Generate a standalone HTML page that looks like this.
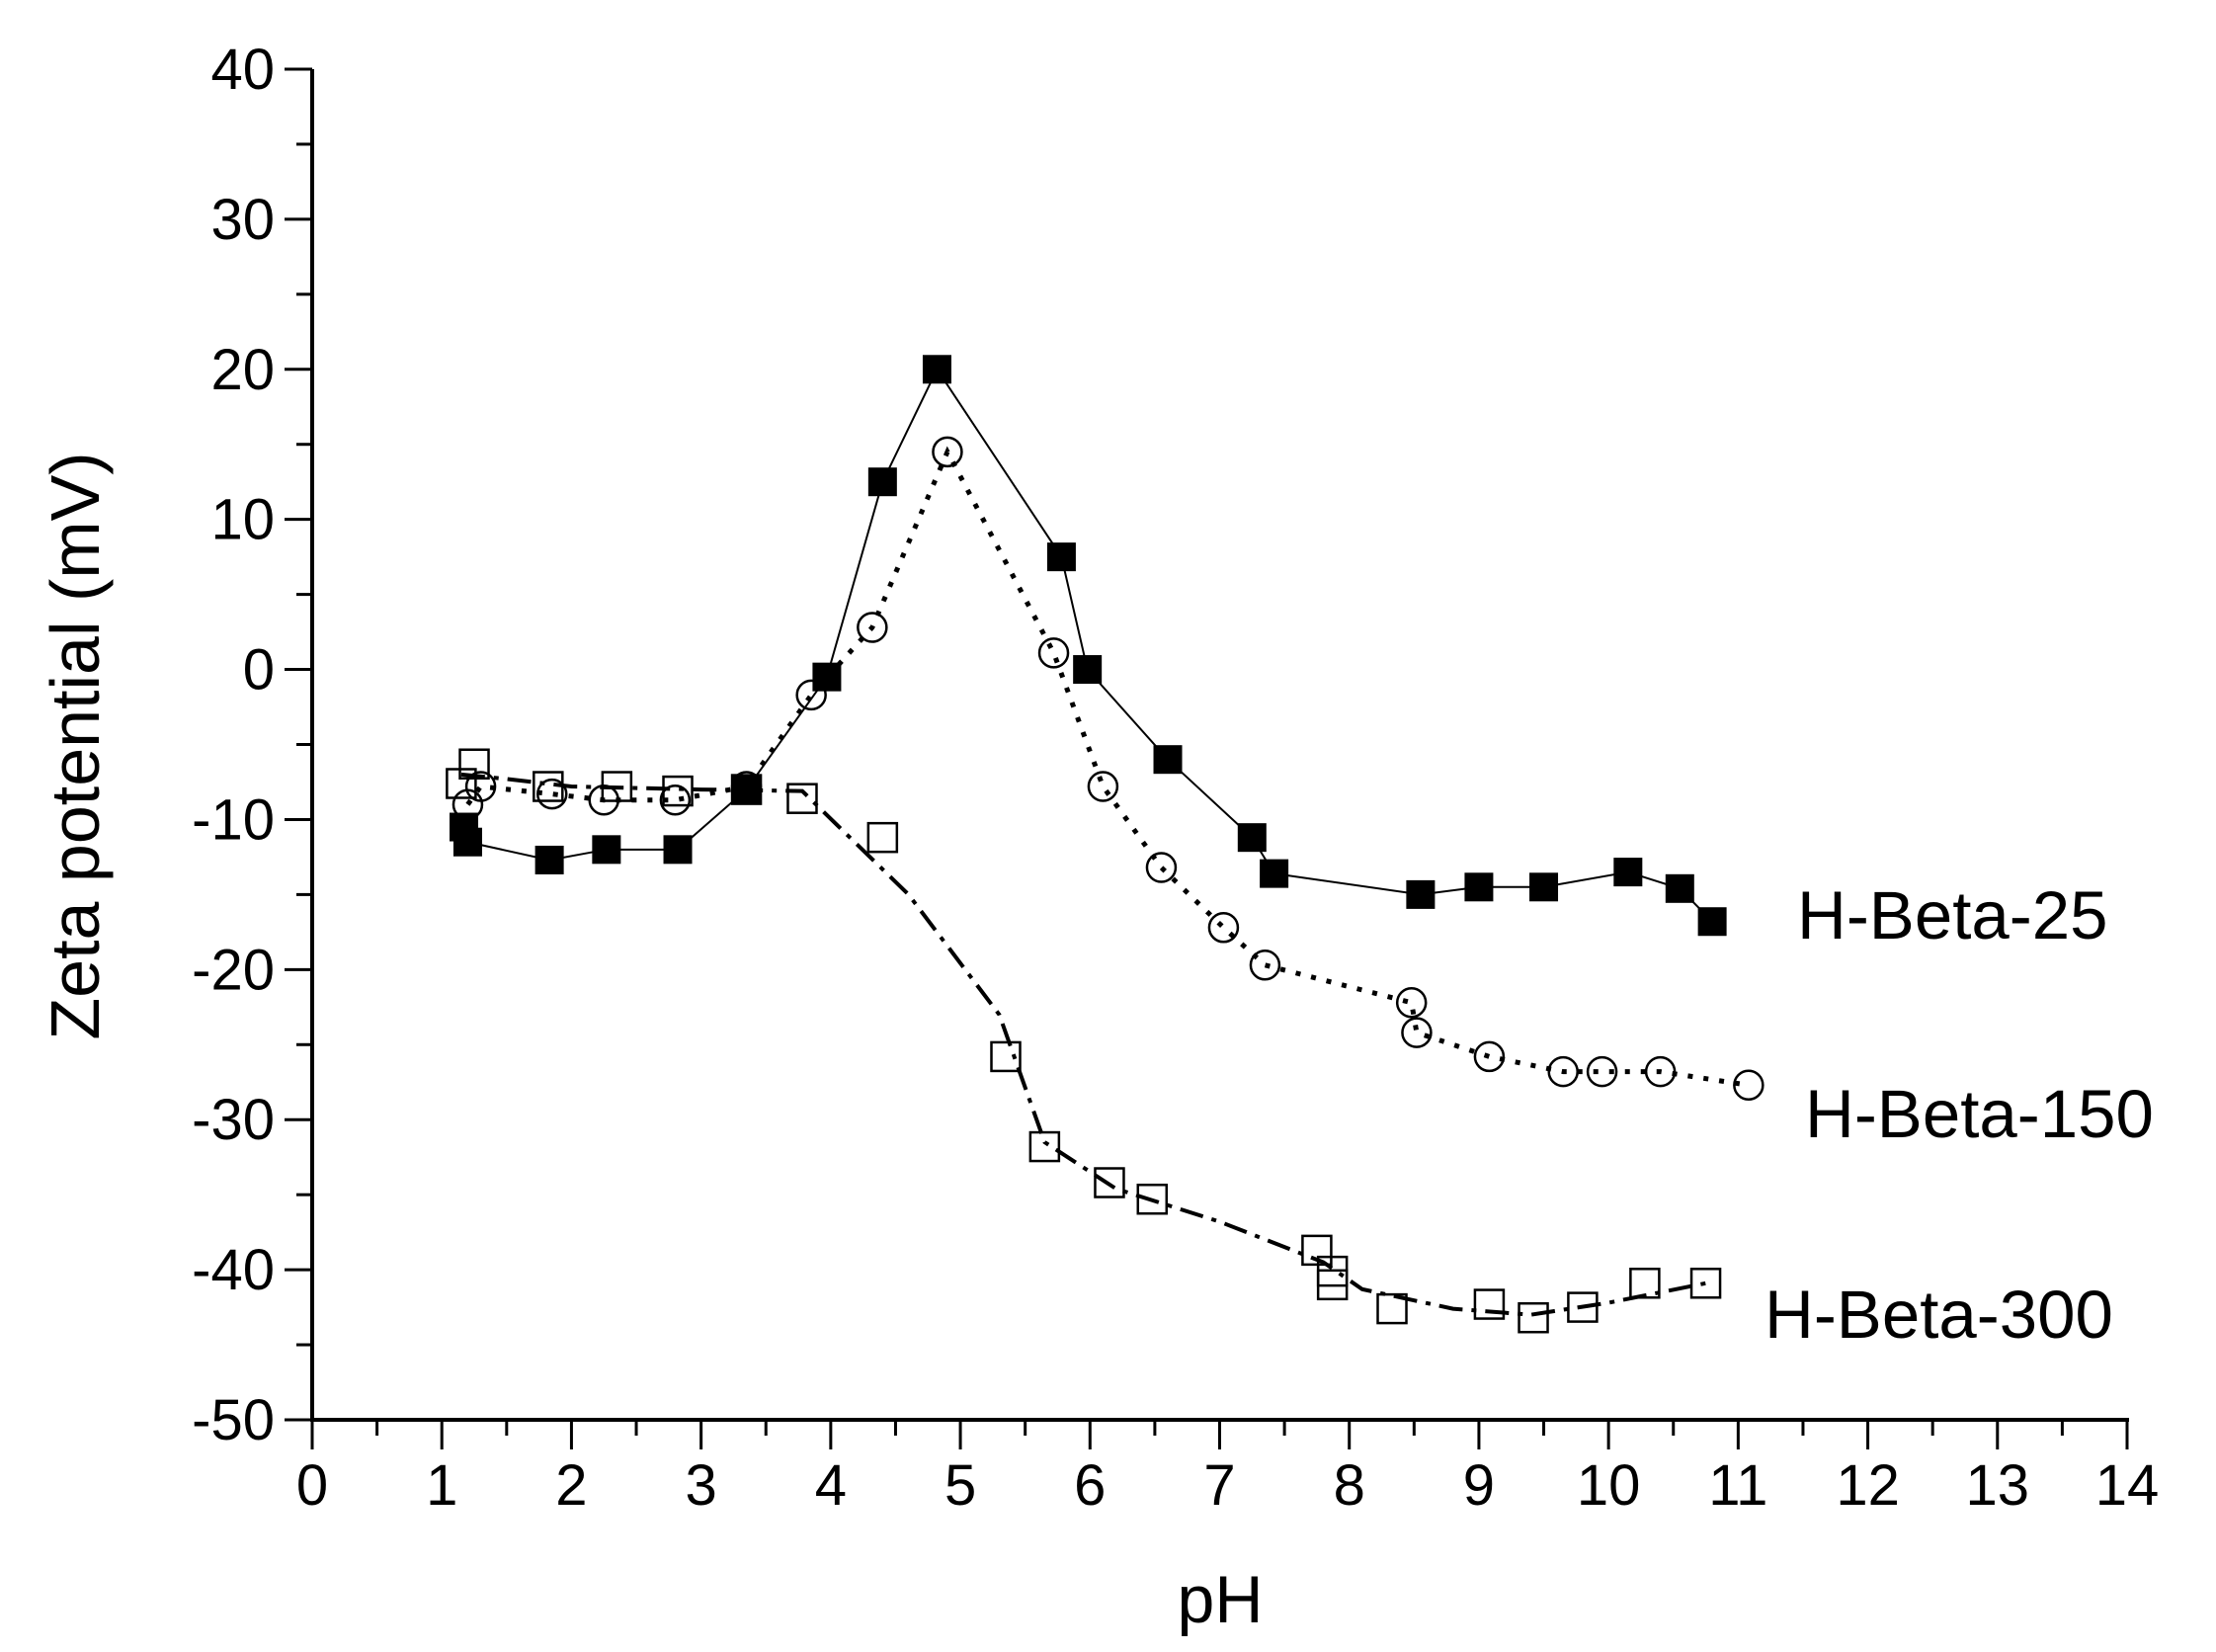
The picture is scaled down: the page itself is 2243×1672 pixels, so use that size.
<!DOCTYPE html>
<html><head><meta charset="utf-8"><style>html,body{margin:0;padding:0;background:#fff}svg{display:block}</style></head>
<body>
<svg id="s" width="2243" height="1672" xmlns="http://www.w3.org/2000/svg" font-family="Liberation Sans, sans-serif"></svg>
<script>
const s=document.getElementById('s');
const X0=316,X1=2153,Y40=70,Ym50=1437;
const X=v=>X0+(X1-X0)*v/14, Y=v=>Ym50+(Y40-Ym50)*(v+50)/90;
let h='';
h+=`<line x1="${X0}" y1="${Y40}" x2="${X0}" y2="${Ym50}" stroke="#000" stroke-width="4"/>`;
h+=`<line x1="${X0-2}" y1="${Ym50}" x2="${X1+2}" y2="${Ym50}" stroke="#000" stroke-width="4"/>`;
for(let v=-50;v<=40;v+=5){const y=Y(v),maj=v%10==0;h+=`<line x1="${X0-(maj?28:16)}" y1="${y}" x2="${X0}" y2="${y}" stroke="#000" stroke-width="3"/>`;
 if(maj)h+=`<text x="${X0-38}" y="${y+20}" font-size="58" text-anchor="end">${v}</text>`;}
for(let v=0;v<=14;v+=0.5){const x=X(v),maj=v%1==0;h+=`<line x1="${x}" y1="${Ym50}" x2="${x}" y2="${Ym50+(maj?30:16)}" stroke="#000" stroke-width="3"/>`;
 if(maj)h+=`<text x="${x}" y="${Ym50+86}" font-size="58" text-anchor="middle">${v}</text>`;}
h+=`<text x="1235" y="1642" font-size="68" text-anchor="middle">pH</text>`;
h+=`<text transform="translate(100,755) rotate(-90)" font-size="70" text-anchor="middle">Zeta potential (mV)</text>`;
h+=`<text x="1819" y="950" font-size="69">H-Beta-25</text>`;
h+=`<text x="1827" y="1151" font-size="69">H-Beta-150</text>`;
h+=`<text x="1786" y="1354" font-size="69">H-Beta-300</text>`;
const b25=[[1.17,-10.5],[1.2,-11.5],[1.83,-12.7],[2.27,-12],[2.82,-12],[3.35,-8],[3.97,-0.5],[4.4,12.5],[4.82,20],[5.78,7.5],[5.98,0],[6.6,-6],[7.25,-11.2],[7.42,-13.6],[8.55,-15],[9,-14.5],[9.5,-14.5],[10.15,-13.5],[10.55,-14.6],[10.8,-16.8]];
const b150=[[1.2,-9],[1.3,-7.8],[1.85,-8.3],[2.25,-8.7],[2.8,-8.7],[3.35,-7.8],[3.85,-1.7],[4.32,2.8],[4.9,14.5],[5.72,1.1],[6.1,-7.8],[6.55,-13.2],[7.03,-17.2],[7.35,-19.7],[8.48,-22.2],[8.52,-24.2],[9.08,-25.8],[9.65,-26.8],[9.95,-26.8],[10.4,-26.8],[11.08,-27.7]];
const b300=[[1.15,-7.6],[1.25,-6.3],[1.82,-7.8],[2.35,-7.8],[2.82,-8.1],[3.35,-8],[3.78,-8.6],[4.4,-11.2],[5.35,-25.8],[5.65,-31.8],[6.15,-34.2],[6.48,-35.3],[7.75,-38.7],[7.87,-40.1],[7.87,-41],[8.33,-42.6],[9.08,-42.3],[9.42,-43.2],[9.8,-42.5],[10.28,-40.9],[10.75,-40.9]];
const l300=[[1.15,-7],[1.5,-7.3],[2,-7.8],[3,-8],[3.78,-8.1],[4.6,-15],[5.3,-23],[5.65,-31.5],[6.2,-34.6],[7,-36.8],[7.8,-39.5],[8.1,-41.3],[8.8,-42.6],[9.4,-43],[10,-42.2],[10.75,-40.9]];
const pl=(a,st)=>`<polyline fill="none" stroke="#000" ${st} points="${a.map(p=>X(p[0])+','+Y(p[1])).join(' ')}"/>`;
h+=pl(b25,'stroke-width="2"');
h+=pl(b150,'stroke-width="5" stroke-dasharray="5,11"');
h+=pl(l300,'stroke-width="4" stroke-dasharray="24,9,5,9"');
const r=14.5;
b25.forEach(p=>h+=`<rect x="${X(p[0])-r}" y="${Y(p[1])-r}" width="${2*r}" height="${2*r}" fill="#000"/>`);
b150.forEach(p=>h+=`<circle cx="${X(p[0])}" cy="${Y(p[1])}" r="${r}" fill="none" stroke="#000" stroke-width="2.5"/>`);
b300.forEach(p=>h+=`<rect x="${X(p[0])-r}" y="${Y(p[1])-r}" width="${2*r}" height="${2*r}" fill="none" stroke="#000" stroke-width="2.5"/>`);
s.innerHTML=h;
</script>
</body></html>
